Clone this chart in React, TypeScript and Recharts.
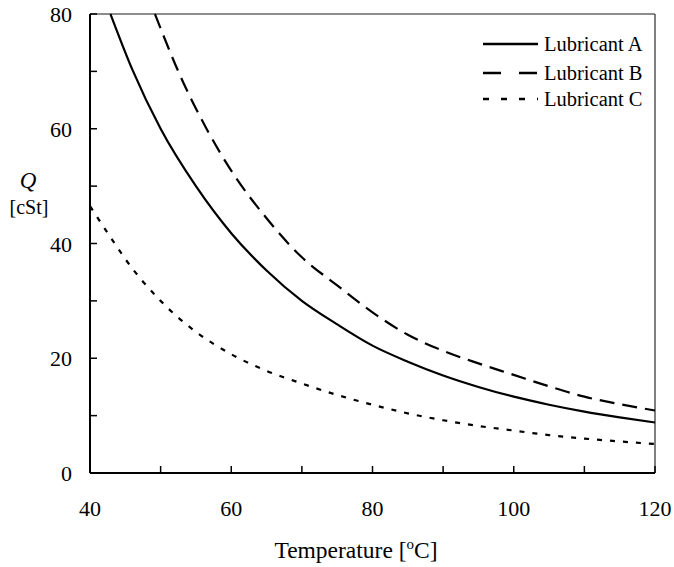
import { LineChart, Line, XAxis, YAxis, ReferenceLine, Legend } from "recharts";

// Viscosity vs temperature for three lubricants, drawn in a plain
// "journal figure" style: inward ticks, serif type, no grid.

const FONT = '"Liberation Serif", "Times New Roman", serif';

const tempTicks = [40, 50, 60, 70, 80, 90, 100, 110, 120];
const viscTicks = [0, 10, 20, 30, 40, 50, 60, 70, 80];
const seriesNames = ["Lubricant A", "Lubricant B", "Lubricant C"];

const tempA = [42.9, 46, 50, 55, 60, 65, 70, 75, 80, 85, 90, 95, 100, 105, 110, 115, 120];
const viscA = [80, 70.3, 60, 50, 41.8, 35.3, 30, 25.9, 22.2, 19.4, 17.0, 15.0, 13.3, 11.9, 10.7, 9.7, 8.8];

const tempB = [49.2, 52.5, 56.5, 60, 65, 70, 75, 80, 85, 90, 95, 100, 105, 110, 115, 120];
const viscB = [80, 70, 60, 52.7, 44.4, 37.6, 32.7, 28.0, 24.1, 21.3, 19.1, 17.1, 15.1, 13.3, 12.0, 10.9];

const tempC = [40, 43.5, 45, 50, 55, 60, 65, 70, 75, 80, 85, 90, 95, 100, 105, 110, 115, 120];
const viscC = [46.5, 40, 37.3, 30, 24.6, 20.7, 17.8, 15.6, 13.6, 11.9, 10.4, 9.2, 8.2, 7.4, 6.6, 6.0, 5.5, 5.05];

const zip = (t: number[], q: number[]) => t.map((v, i) => ({ t: v, q: q[i] }));

const dataA = zip(tempA, viscA);
const dataB = zip(tempB, viscB);
const dataC = zip(tempC, viscC);

function TempTick({ x, y, payload }: any) {
  const major = payload.value % 20 === 0;
  return (
    <g>
      <line x1={x} x2={x} y1={y} y2={y - 7} stroke="#000" strokeWidth={1.5} />
      {major && (
        <text x={x} y={y + 43} textAnchor="middle" fontSize={22} fontFamily={FONT} fill="#000">
          {payload.value}
        </text>
      )}
    </g>
  );
}

function ViscTick({ x, y, payload }: any) {
  const major = payload.value % 20 === 0;
  return (
    <g>
      <line x1={x} x2={x + 7} y1={y} y2={y} stroke="#000" strokeWidth={1.5} />
      {major && (
        <text x={x - 18} y={y + 8} textAnchor="end" fontSize={22} fontFamily={FONT} fill="#000">
          {payload.value}
        </text>
      )}
    </g>
  );
}

const renderQLabel = () => (
  <g fontFamily={FONT} fill="#000">
    <text x={28} y={188} textAnchor="middle" fontSize={23} fontStyle="italic">
      Q
    </text>
    <text x={29} y={214} textAnchor="middle" fontSize={20}>
      [cSt]
    </text>
  </g>
);

const renderTempLabel = () => (
  <text x={356} y={558} textAnchor="middle" fontSize={23.5} fontFamily={FONT} fill="#000">
    Temperature [
    <tspan dy={-9} fontSize={15}>
      o
    </tspan>
    <tspan dy={9}>C]</tspan>
  </text>
);

const legendDash = ["none", "18 18", "6 12"];

function LegendBox() {
  return (
    <svg width={190} height={85} style={{ display: "block" }}>
      {seriesNames.map((name, i) => {
        const y = [14, 43, 69][i];
        return (
          <g key={name}>
            <line x1={5} x2={60} y1={y} y2={y} stroke="#000" strokeWidth={2.4} strokeDasharray={legendDash[i]} />
            <text x={66} y={y + 7} fontSize={20.5} fontFamily={FONT} fill="#000">
              {name}
            </text>
          </g>
        );
      })}
    </svg>
  );
}

export default function App() {
  return (
    <div style={{ position: "absolute", left: 0, top: 0, background: "#fff" }}>
      <LineChart width={674} height={567} margin={{ top: 14, right: 19, bottom: 0, left: 0 }}>
        <XAxis
          type="number"
          dataKey="t"
          domain={[40, 120]}
          ticks={tempTicks}
          height={94}
          tickSize={0}
          tickMargin={0}
          tick={<TempTick />}
          axisLine={{ stroke: "#000", strokeWidth: 2 }}
          label={{ content: renderTempLabel }}
        />
        <YAxis
          type="number"
          domain={[0, 80]}
          ticks={viscTicks}
          width={90}
          tickSize={0}
          tickMargin={0}
          tick={<ViscTick />}
          axisLine={{ stroke: "#000", strokeWidth: 2 }}
          label={{ content: renderQLabel }}
        />
        <ReferenceLine y={80} stroke="#666" strokeWidth={1.5} />
        <ReferenceLine x={120} stroke="#555" strokeWidth={1.5} />
        <Line data={dataA} dataKey="q" name={seriesNames[0]} type="monotone" stroke="#000" strokeWidth={2.2} dot={false} activeDot={false} isAnimationActive={false} />
        <Line data={dataB} dataKey="q" name={seriesNames[1]} type="monotone" stroke="#000" strokeWidth={2.2} strokeDasharray="15 8" dot={false} activeDot={false} isAnimationActive={false} />
        <Line data={dataC} dataKey="q" name={seriesNames[2]} type="monotone" stroke="#000" strokeWidth={2.2} strokeDasharray="5 8" dot={false} activeDot={false} isAnimationActive={false} />
        <Legend
          layout="vertical"
          align="center"
          verticalAlign="middle"
          content={<LegendBox />}
          wrapperStyle={{ position: "absolute", left: 478, top: 30, width: 190, height: 85 }}
        />
      </LineChart>
    </div>
  );
}
